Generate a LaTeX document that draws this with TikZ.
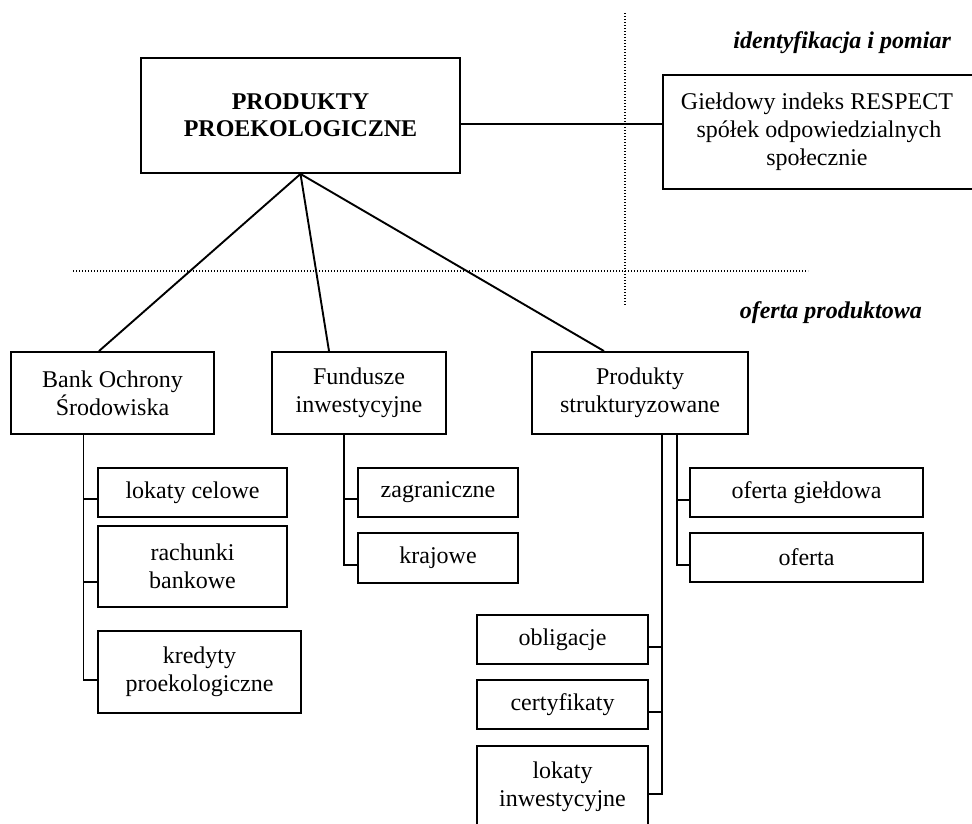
\documentclass[tikz,border=0pt]{standalone}
\usepackage{fontspec}
\setmainfont{Liberation Serif}
\begin{document}
\begin{tikzpicture}[x=1pt,y=-1pt,
  box/.style={draw,line width=1.9pt,align=center,inner sep=0pt,
    font=\fontsize{24}{28}\selectfont},
  conn/.style={line width=1.9pt},
  sep/.style={line width=1.2pt,dash pattern=on 1.3pt off 1.7pt},
  lbl/.style={font=\fontsize{24}{28}\selectfont\bfseries\itshape,inner sep=0pt,anchor=east}]
\useasboundingbox (0,0) rectangle (972,823);
\clip (0,0) rectangle (972,823);
% separators
\coordinate (vtop) at (625,13);
\coordinate (vbot) at (625,306);
\coordinate (hl) at (73,271);
\coordinate (hr) at (808,271);
\draw[sep] (vtop) -- (vbot);
\draw[sep] (hl) -- (hr);
% labels
\node[lbl] (lid) at (951,43) {identyfikacja i pomiar};
\node[lbl] (lof) at (922,313) {oferta produktowa};
% boxes
\node[box,minimum width=319pt,minimum height=115pt,font=\fontsize{24}{27}\selectfont\bfseries] (main) at (300.5,115.5) {PRODUKTY\\PROEKOLOGICZNE};
\node[box,minimum width=316pt,minimum height=114pt,anchor=west] (resp) at (662,132) {\hspace*{-4pt}Giełdowy indeks RESPECT\hspace*{4pt}\\\hspace*{-4pt}spółek odpowiedzialnych\hspace*{4pt}\\\hspace*{-4pt}społecznie\hspace*{4pt}};
\node[box,minimum width=203pt,minimum height=82pt] (bank) at (112.5,393) {Bank Ochrony\\Środowiska};
\node[box,minimum width=174pt,minimum height=82pt] (fund) at (359,393) {Fundusze\\inwestycyjne};
\node[box,minimum width=216pt,minimum height=82pt] (prod) at (640,393) {Produkty\\strukturyzowane};
\node[box,minimum width=189pt,minimum height=49pt] (lc) at (192.5,492.5) {lokaty celowe};
\node[box,minimum width=189pt,minimum height=81pt] (rach) at (192.5,566.5) {rachunki\\bankowe};
\node[box,minimum width=203pt,minimum height=82pt] (kr) at (199.5,672) {kredyty\\proekologiczne};
\node[box,minimum width=160pt,minimum height=49pt] (zag) at (438,492.5) {zagraniczne};
\node[box,minimum width=160pt,minimum height=50pt] (kraj) at (438,558) {krajowe};
\node[box,minimum width=233pt,minimum height=49pt] (og) at (806.5,492.5) {oferta giełdowa};
\node[box,minimum width=233pt,minimum height=49pt] (of) at (806.5,557.5) {oferta};
\node[box,minimum width=171pt,minimum height=49pt] (obl) at (562.5,639.5) {obligacje};
\node[box,minimum width=171pt,minimum height=49pt] (cert) at (562.5,704.5) {certyfikaty};
\node[box,minimum width=171pt,minimum height=82pt] (li) at (562.5,787) {lokaty\\inwestycyjne};
% connectors from main
\draw[conn] (main.east |- 0,124) -- (resp.west |- 0,124);
\draw[conn] (main.south) -- ([xshift=-13.5pt]bank.north);
\draw[conn] (main.south) -- ([xshift=-30pt]fund.north);
\draw[conn] (main.south) -- ([xshift=-36pt]prod.north);
% bank tree
\draw[conn] ([xshift=-29pt]bank.south) |- ([yshift=-8pt]kr.west);
\draw[conn] ([yshift=-6.5pt]lc.west) -| ([xshift=-29pt]bank.south);
\draw[conn] ([yshift=-15.5pt]rach.west) -| ([xshift=-29pt]bank.south);
% funds tree
\draw[conn] ([xshift=-15pt]fund.south) |- ([yshift=-7pt]kraj.west);
\draw[conn] ([yshift=-6.5pt]zag.west) -| ([xshift=-15pt]fund.south);
% prod tree right
\draw[conn] ([xshift=37pt]prod.south) |- ([yshift=-7.5pt]of.west);
\draw[conn] ([yshift=-7.5pt]og.west) -| ([xshift=37pt]prod.south);
% prod tree left
\draw[conn] ([xshift=22pt]prod.south) |- ([yshift=-7pt]li.east);
\draw[conn] ([yshift=-7.5pt]obl.east) -| ([xshift=22pt]prod.south);
\draw[conn] ([yshift=-7.5pt]cert.east) -| ([xshift=22pt]prod.south);
\end{tikzpicture}
\end{document}
